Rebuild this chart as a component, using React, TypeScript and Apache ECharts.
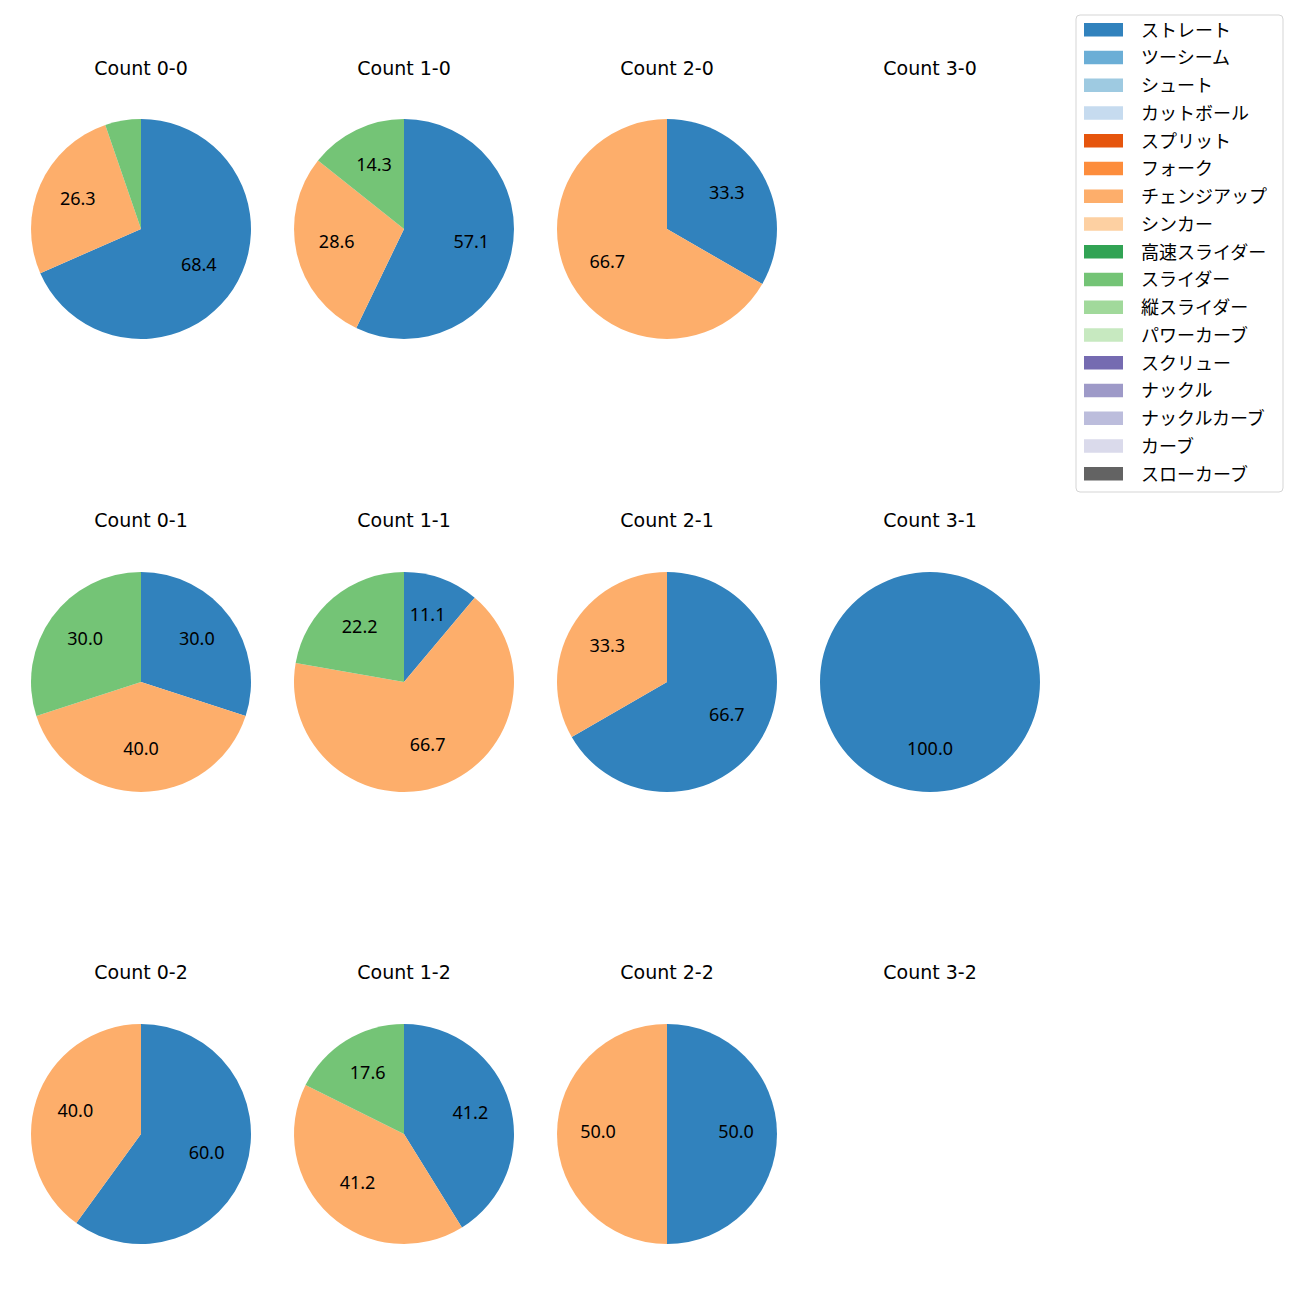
import React, { useEffect, useRef } from "react";
import * as echarts from "echarts";

const pitchNames = [
  "ストレート", "ツーシーム", "シュート", "カットボール", "スプリット", "フォーク",
  "チェンジアップ", "シンカー", "高速スライダー", "スライダー", "縦スライダー",
  "パワーカーブ", "スクリュー", "ナックル", "ナックルカーブ", "カーブ", "スローカーブ",
];
const pitchColors = [
  "#3182bd", "#6baed6", "#9ecae1", "#c6dbef", "#e6550d", "#fd8d3c",
  "#fdae6b", "#fdd0a2", "#31a354", "#74c476", "#a1d99b",
  "#c7e9c0", "#756bb1", "#9e9ac8", "#bcbddc", "#dadaeb", "#636363",
];

// counts per panel: [ストレート, チェンジアップ, スライダー]
const usedPitches = ["ストレート", "チェンジアップ", "スライダー"];
const panelTitles = [
  "Count 0-0", "Count 1-0", "Count 2-0", "Count 3-0",
  "Count 0-1", "Count 1-1", "Count 2-1", "Count 3-1",
  "Count 0-2", "Count 1-2", "Count 2-2", "Count 3-2",
];
const count00 = [13, 5, 1];
const count10 = [4, 2, 1];
const count20 = [1, 2, 0];
const count30: number[] = [0, 0, 0];
const count01 = [3, 4, 3];
const count11 = [1, 6, 2];
const count21 = [2, 1, 0];
const count31 = [1, 0, 0];
const count02 = [3, 2, 0];
const count12 = [7, 7, 3];
const count22 = [1, 1, 0];
const count32: number[] = [0, 0, 0];
const panelValues = [
  count00, count10, count20, count30,
  count01, count11, count21, count31,
  count02, count12, count22, count32,
];

const colX = [141, 404, 667, 930];
const rowY = [229, 682, 1134];
const titleY = [68, 520, 972];
const R = 110;
const CJK = "'Noto Sans CJK JP', sans-serif";

export default function App() {
  const ref = useRef<HTMLDivElement>(null);
  useEffect(() => {
    document.body.style.margin = "0";
    const chart = echarts.init(ref.current!, null, { renderer: "svg" });
    const series: any[] = [];
    const graphics: any[] = [];
    panelTitles.forEach((title, i) => {
      const cx = colX[i % 4];
      const cy = rowY[Math.floor(i / 4)];
      const ty = titleY[Math.floor(i / 4)];
      graphics.push({
        type: "text",
        x: cx,
        y: ty,
        style: {
          text: title,
          fill: "#000",
          font: `19px 'DejaVu Sans', sans-serif`,
          textAlign: "center",
          textVerticalAlign: "middle",
        },
      });
      const vals = panelValues[i];
      const total = vals.reduce((a, b) => a + b, 0);
      if (total === 0) return;
      const data = usedPitches
        .map((name, k) => ({
          name,
          value: vals[k],
          itemStyle: { color: pitchColors[pitchNames.indexOf(name)] },
        }))
        .filter((d) => d.value > 0);
      series.push({
        type: "pie",
        center: [cx, cy],
        radius: [0, R],
        startAngle: 90,
        clockwise: true,
        silent: true,
        label: { show: false },
        labelLine: { show: false },
        itemStyle: { borderWidth: 0 },
        emphasis: { disabled: true },
        data,
      });
      series.push({
        type: "pie",
        center: [cx, cy],
        radius: [R * 0.2, R],
        startAngle: 90,
        clockwise: true,
        silent: true,
        z: 3,
        label: {
          show: true,
          position: "inside",
          color: "#000",
          fontSize: 18,
          offset: [0, -3],
          fontFamily: "'Noto Sans', sans-serif",
          formatter: (p: any) => {
            const pct = (p.value / total) * 100;
            return pct >= 10 ? pct.toFixed(1) : "";
          },
        },
        labelLine: { show: false },
        itemStyle: { color: "rgba(0,0,0,0)", borderWidth: 0 },
        emphasis: { disabled: true },
        data: data.map((d) => ({ name: d.name, value: d.value })),
      });
    });

    // legend
    const lgX = 1076, lgY = 15, lgW = 207, lgH = 477;
    graphics.push({
      type: "rect",
      shape: { x: lgX, y: lgY, width: lgW, height: lgH, r: 4 },
      style: { fill: "#fff", stroke: "#d5d5d5", lineWidth: 1 },
      z: 10,
    });
    pitchNames.forEach((name, k) => {
      const y = 29.5 + k * 27.75;
      graphics.push({
        type: "rect",
        shape: { x: 1084, y: y - 6.5, width: 39, height: 13.5 },
        style: { fill: pitchColors[k] },
        z: 11,
      });
      graphics.push({
        type: "text",
        x: 1141,
        y: y - 1,
        style: {
          text: name,
          fill: "#000",
          font: `18px ${CJK}`,
          textAlign: "left",
          textVerticalAlign: "middle",
        },
        z: 11,
      });
    });

    chart.setOption({
      animation: false,
      backgroundColor: "#fff",
      series,
      graphic: graphics,
    });
    return () => chart.dispose();
  }, []);
  return (
    <div
      ref={ref}
      style={{ position: "absolute", left: 0, top: 0, width: 1300, height: 1300 }}
    />
  );
}
